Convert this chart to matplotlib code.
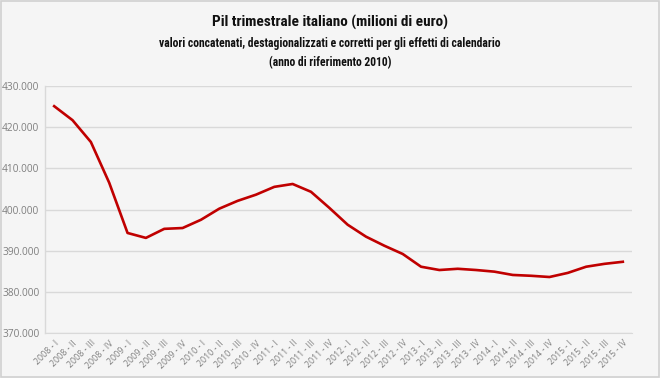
import matplotlib
matplotlib.use("Agg")
import matplotlib.pyplot as plt
from matplotlib.patches import Rectangle

years = ["2008", "2009", "2010", "2011", "2012", "2013", "2014", "2015"]
quarters = ["I", "II", "III", "IV"]
labels = [f"{y} - {q}" for y in years for q in quarters]

pil = [425.1, 421.7, 416.4, 406.5, 394.3, 393.1, 395.3, 395.5,
       397.5, 400.2, 402.1, 403.6, 405.5, 406.2, 404.3, 400.4,
       396.3, 393.4, 391.2, 389.2, 386.1, 385.3, 385.6, 385.3,
       384.9, 384.1, 383.9, 383.6, 384.6, 386.1, 386.8, 387.3]

yticks = [370, 380, 390, 400, 410, 420, 430]

bg = "#f5f5f5"
fig = plt.figure(figsize=(6.6, 3.78), dpi=100, facecolor=bg)
fig.patches.append(Rectangle((0.002, 0.003), 0.996, 0.994, transform=fig.transFigure,
                             fill=False, edgecolor="#d0d0d0", lw=1.2))
ax = fig.add_axes([45/660, 1-333/378, 587/660, (333-86)/378])
ax.set_facecolor(bg)

x = list(range(len(pil)))
ax.plot(x, pil, color="#c00000", lw=1.9, solid_joinstyle="round")
ax.set_xlim(-0.5, len(pil)-0.5)
ax.set_ylim(370, 430)
ax.set_yticks(yticks)
ax.set_yticklabels([f"{v}.000" for v in yticks], fontsize=7.3, color="#7f7f7f", family="Open Sans")
ax.set_xticks(x)
ax.set_xticklabels(labels, rotation=45, ha="right", rotation_mode="anchor",
                   fontsize=6.3, color="#7f7f7f", family="Open Sans")
ax.tick_params(axis="both", length=0, pad=4)
ax.grid(axis="y", color="#d9d9d9", lw=1)
ax.set_axisbelow(True)
for s in ["top", "right"]:
    ax.spines[s].set_visible(False)
ax.spines["left"].set_color("#d9d9d9")
ax.spines["bottom"].set_color("#d9d9d9")
ax.spines["left"].set_linewidth(1)

tfam = ["Roboto Condensed", "Liberation Sans Narrow", "DejaVu Sans"]
fig.text(0.5, 1-22/378, "Pil trimestrale italiano (milioni di euro)", ha="center", va="center",
         fontsize=11, family=tfam, fontstretch="condensed", weight="semibold", color="#111111")
fig.text(0.5, 1-44/378, "valori concatenati, destagionalizzati e corretti per gli effetti di calendario",
         ha="center", va="center", fontsize=8.4, family=tfam, fontstretch="condensed",
         weight="semibold", color="#111111")
fig.text(0.5, 1-63/378, "(anno di riferimento 2010)", ha="center", va="center",
         fontsize=8.4, family=tfam, fontstretch="condensed", weight="semibold", color="#111111")

fig.savefig("out.png", dpi=100, facecolor=bg)
